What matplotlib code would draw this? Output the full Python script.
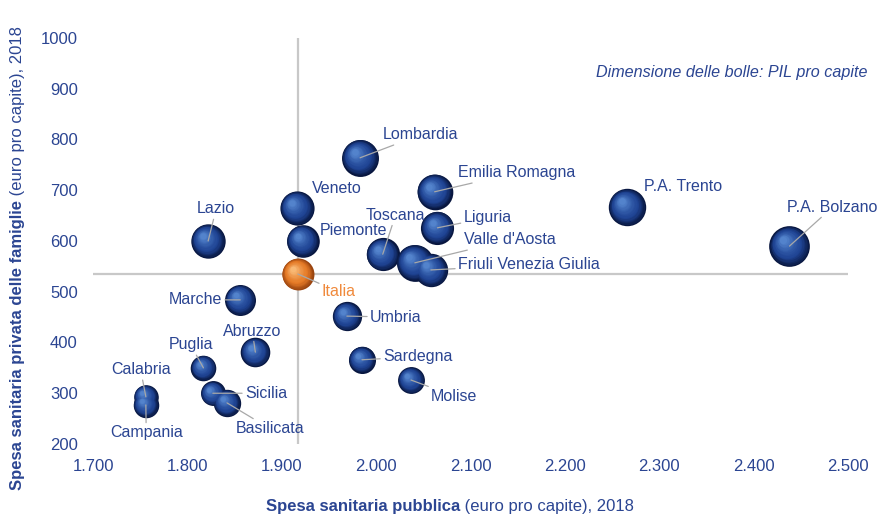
import numpy as np
import matplotlib.pyplot as plt
import matplotlib.colors as mcolors
from matplotlib.transforms import ScaledTranslation
from matplotlib.ticker import FuncFormatter

plt.rcParams['font.family'] = ['Liberation Sans', 'DejaVu Sans']

# dati (euro pro capite, 2018)
regioni = ['Lombardia', 'Emilia Romagna', 'P.A. Trento', 'P.A. Bolzano', 'Veneto',
           'Lazio', 'Piemonte', 'Toscana', 'Liguria', "Valle d'Aosta",
           'Friuli Venezia Giulia', 'Italia', 'Marche', 'Umbria', 'Abruzzo',
           'Sardegna', 'Molise', 'Puglia', 'Sicilia', 'Basilicata', 'Calabria', 'Campania']
spesa_pubblica = [1983, 2062, 2266, 2438, 1916, 1822, 1922, 2007, 2065, 2041,
                  2058, 1917, 1856, 1969, 1872, 1985, 2037, 1817, 1827, 1842, 1756, 1756]
spesa_privata = [764, 697, 667, 590, 665, 600, 600, 574, 626, 557,
                 543, 535, 484, 452, 381, 366, 326, 350, 300, 281, 293, 277]
pil_pro_capite = [38.8, 36.2, 39.8, 47.1, 33.2, 33.6, 30.2, 31.3, 31.2, 38.5,
                  31.7, 29.0, 27.3, 24.4, 24.9, 20.8, 20.5, 18.6, 17.6, 21.3, 17.1, 18.5]
x_ticks = [1700, 1800, 1900, 2000, 2100, 2200, 2300, 2400, 2500]
y_ticks = [200, 300, 400, 500, 600, 700, 800, 900, 1000]

NAVY = '#2b4592'
ORANGE = '#f08a3c'
GRID = '#c8c8c8'
FS = 11.5

# posizione etichette: offset in pixel (dx, dy verso l'alto), allineamento, linea guida
label_pos = {
    'Lombardia': (23, 23, 'left', True),
    'Emilia Romagna': (23, 19, 'left', True),
    'P.A. Trento': (17, 20, 'left', False),
    'P.A. Bolzano': (-2, 39, 'left', True),
    'Veneto': (15, 20, 'left', False),
    'Lazio': (8, 32, 'center', True),
    'Piemonte': (17, 10, 'left', False),
    'Toscana': (-17, 39, 'left', True),
    'Liguria': (26, 10, 'left', True),
    "Valle d'Aosta": (49, 23, 'left', True),
    'Friuli Venezia Giulia': (27, 5, 'left', True),
    'Italia': (24, -18, 'left', True),
    'Marche': (-18, 0, 'right', True),
    'Umbria': (23, -1, 'left', True),
    'Abruzzo': (-3, 21, 'center', True),
    'Sardegna': (21, 3, 'left', True),
    'Molise': (20, -16, 'left', True),
    'Puglia': (-35, 23, 'left', True),
    'Sicilia': (32, 0, 'left', True),
    'Basilicata': (9, -26, 'left', True),
    'Calabria': (-35, 27, 'left', True),
    'Campania': (-36, -28, 'left', True),
}

fig = plt.figure(figsize=(8.78, 5.16), dpi=100)
ax = fig.add_axes([93 / 878, 1 - 444 / 516, (848 - 93) / 878, (444 - 38) / 516])
ax.set_xlim(1700, 2500)
ax.set_ylim(200, 1000)
for s in ax.spines.values():
    s.set_visible(False)
ax.set_xticks(x_ticks)
ax.set_yticks(y_ticks)
ax.xaxis.set_major_formatter(FuncFormatter(lambda v, p: f'{v/1000:.3f}'))
ax.tick_params(length=0, labelsize=12, colors=NAVY)
ax.tick_params(axis='x', pad=11)
ax.tick_params(axis='y', pad=11)

# assi incrociati sul valore Italia
i_it = regioni.index('Italia')
ax.axvline(spesa_pubblica[i_it], color=GRID, lw=1.6, zorder=1)
ax.axhline(spesa_privata[i_it], color=GRID, lw=1.6, zorder=1)


def sfera(x, y, diam, base, luce, scuro):
    # bolla "3D" a strati concentrici
    n = 16
    c_dark = np.array(mcolors.to_rgb(scuro))
    c_base = np.array(mcolors.to_rgb(base))
    c_light = np.array(mcolors.to_rgb(luce))
    for k in range(n):
        t = k / (n - 1)
        f = 1 - 0.82 * t
        if t < 0.35:
            col = c_dark + (c_base - c_dark) * (t / 0.35)
        else:
            col = c_base + (c_light - c_base) * ((t - 0.35) / 0.65) ** 1.3
        off = (1 - f) * diam * 0.3
        tr = ax.transData + ScaledTranslation(-off * 0.6 / 72, off * 0.6 / 72, fig.dpi_scale_trans)
        ax.scatter([x], [y], s=(diam * f) ** 2, color=col, transform=tr,
                   linewidths=0, zorder=3 + k * 0.01)


for nome, xv, yv, pil in zip(regioni, spesa_pubblica, spesa_privata, pil_pro_capite):
    diam = 4.27 * np.sqrt(pil)
    if nome == 'Italia':
        sfera(xv, yv, diam, '#e57a26', '#f8b874', '#9a4510')
    else:
        sfera(xv, yv, diam, '#1f4494', '#5383cc', '#08163f')

for nome, xv, yv in zip(regioni, spesa_pubblica, spesa_privata):
    dx, dy, ha, leader = label_pos[nome]
    col = ORANGE if nome == 'Italia' else NAVY
    ax.annotate(nome, xy=(xv, yv), xytext=(dx * 0.72, dy * 0.72), textcoords='offset points',
                ha=ha, va='center', fontsize=FS, color=col, zorder=10,
                arrowprops=dict(arrowstyle='-', color='#a8a8a8', lw=0.9,
                                shrinkA=0, shrinkB=0) if leader else None)

fig.text(868 / 878, 1 - 72 / 516, 'Dimensione delle bolle: PIL pro capite',
         ha='right', va='center', fontsize=11.6, style='italic', color=NAVY)

# titoli assi: parte in grassetto + parte normale
xb = fig.text(266 / 878, 1 - 507 / 516, 'Spesa sanitaria pubblica', fontsize=12,
              fontweight='bold', color=NAVY, ha='left', va='center')
ax.annotate(' (euro pro capite), 2018', xy=(1, 0.5), xycoords=xb, ha='left', va='center',
            fontsize=12, color=NAVY, annotation_clip=False)

yb = fig.text(18 / 878, 1 - 490 / 516, 'Spesa sanitaria privata delle famiglie', fontsize=12,
              fontweight='bold', color=NAVY, ha='center', va='bottom', rotation=90)
ax.annotate(' (euro pro capite), 2018', xy=(0.5, 1), xycoords=yb, ha='center', va='bottom',
            rotation=90, fontsize=12, color=NAVY, annotation_clip=False)

fig.savefig('out.png', dpi=100)
